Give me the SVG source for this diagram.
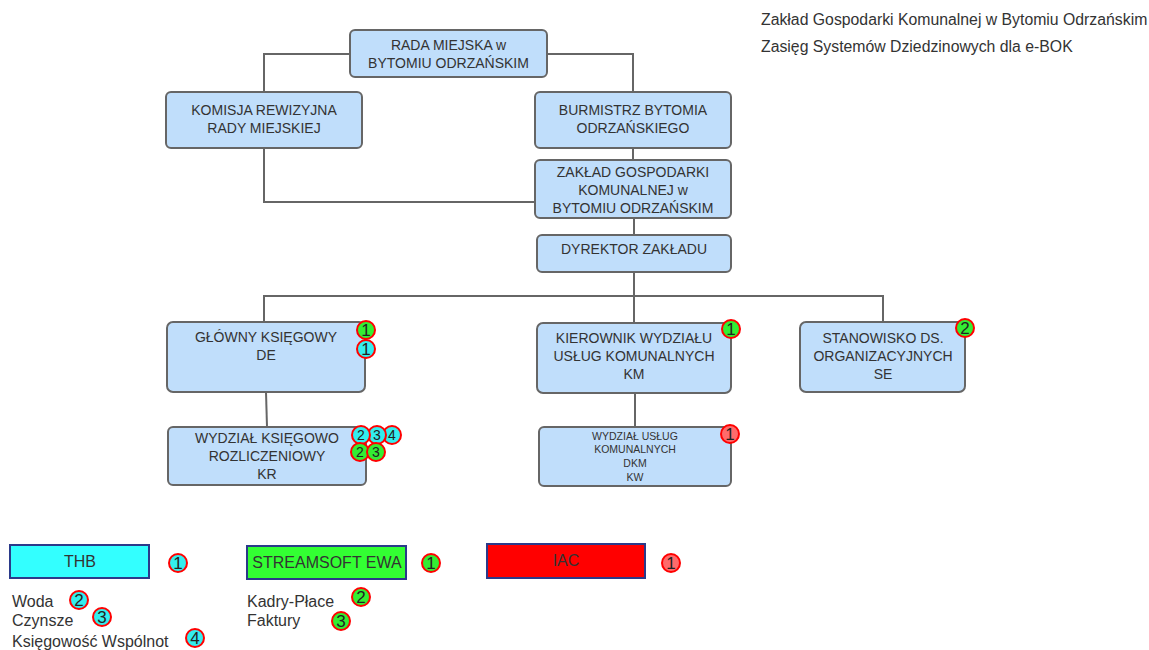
<svg xmlns="http://www.w3.org/2000/svg" width="1149" height="650" viewBox="0 0 1149 650">
<style>
.node{fill:#c0defb;stroke:#666;stroke-width:2}
.t{font-family:"Liberation Sans",Arial,sans-serif;font-size:14px;fill:#333;text-anchor:middle}
.ts{font-family:"Liberation Sans",Arial,sans-serif;font-size:10.5px;fill:#333;text-anchor:middle}
.lt{font-family:"Liberation Sans",Arial,sans-serif;font-size:16px;fill:#333}
.hd{font-family:"Liberation Sans",Arial,sans-serif;font-size:15.8px;fill:#333}
.con{fill:none;stroke:#666;stroke-width:2}
.bg circle{stroke:#f00;stroke-width:2}
.g{fill:#33ee33}.c{fill:#33eeee}.r{fill:#ff6b6b}
.bn{font-family:"Liberation Sans",Arial,sans-serif;font-size:17px;fill:#222;text-anchor:middle}
.bs{font-family:"Liberation Sans",Arial,sans-serif;font-size:14px;fill:#222;text-anchor:middle}
.leg{stroke:#2b3a8a;stroke-width:2}
</style>
<text class="hd" x="761" y="25">Zakład Gospodarki Komunalnej w Bytomiu Odrzańskim</text>
<text class="hd" x="761" y="52">Zasięg Systemów Dziedzinowych dla e-BOK</text>
<g id="connectors">
<polyline class="con" points="350,54 264,54 264,92"/>
<polyline class="con" points="547,54 633,54 633,92"/>
<line class="con" x1="633" y1="148" x2="633" y2="160"/>
<polyline class="con" points="264,148 264,202 535,202"/>
<line class="con" x1="634" y1="218" x2="634" y2="235"/>
<line class="con" x1="634" y1="272" x2="634" y2="323"/>
<polyline class="con" points="264,322 264,296 883,296 883,322"/>
<line class="con" x1="266" y1="392" x2="267" y2="427"/>
<line class="con" x1="635" y1="393" x2="635" y2="427"/>
</g>
<g id="rada"><rect class="node" x="350" y="30" width="197" height="47" rx="5"/>
<text class="t" x="448.5" y="50">RADA MIEJSKA w</text><text class="t" x="448.5" y="68">BYTOMIU ODRZAŃSKIM</text></g>
<g id="komisja"><rect class="node" x="166" y="92" width="196" height="56" rx="5"/>
<text class="t" x="264" y="115">KOMISJA REWIZYJNA</text><text class="t" x="264" y="133">RADY MIEJSKIEJ</text></g>
<g id="burmistrz"><rect class="node" x="535" y="92" width="196" height="56" rx="5"/>
<text class="t" x="633" y="115">BURMISTRZ BYTOMIA</text><text class="t" x="633" y="133">ODRZAŃSKIEGO</text></g>
<g id="zaklad"><rect class="node" x="535" y="160" width="196" height="58" rx="5"/>
<text class="t" x="633" y="177">ZAKŁAD GOSPODARKI</text><text class="t" x="633" y="195">KOMUNALNEJ w</text><text class="t" x="633" y="213">BYTOMIU ODRZAŃSKIM</text></g>
<g id="dyrektor"><rect class="node" x="537" y="235" width="194" height="37" rx="5"/>
<text class="t" x="634" y="254">DYREKTOR ZAKŁADU</text></g>
<g id="glowny"><rect class="node" x="167" y="322" width="198" height="70" rx="6"/>
<text class="t" x="266" y="342">GŁÓWNY KSIĘGOWY</text><text class="t" x="266" y="360">DE</text></g>
<g id="kierownik"><rect class="node" x="537" y="323" width="194" height="70" rx="6"/>
<text class="t" x="634" y="343">KIEROWNIK WYDZIAŁU</text><text class="t" x="634" y="361">USŁUG KOMUNALNYCH</text><text class="t" x="634" y="379">KM</text></g>
<g id="stanowisko"><rect class="node" x="800" y="322" width="165" height="70" rx="6"/>
<text class="t" x="883" y="343">STANOWISKO DS.</text><text class="t" x="883" y="361">ORGANIZACYJNYCH</text><text class="t" x="883" y="379">SE</text></g>
<g id="wks"><rect class="node" x="168" y="427" width="198" height="58" rx="5"/>
<text class="t" x="267" y="443">WYDZIAŁ KSIĘGOWO</text><text class="t" x="267" y="461">ROZLICZENIOWY</text><text class="t" x="267" y="479">KR</text></g>
<g id="wuk"><rect class="node" x="539" y="427" width="192" height="59" rx="5"/>
<text class="ts" x="635" y="440">WYDZIAŁ USŁUG</text><text class="ts" x="635" y="453">KOMUNALNYCH</text><text class="ts" x="635" y="467">DKM</text><text class="ts" x="635" y="481">KW</text></g>
<g id="badges" class="bg">
<circle class="g" cx="366" cy="330" r="9"/><text class="bn" x="366" y="336">1</text>
<circle class="c" cx="366" cy="349" r="9"/><text class="bn" x="366" y="355">1</text>
<circle class="g" cx="731" cy="329" r="9"/><text class="bn" x="731" y="335">1</text>
<circle class="g" cx="965" cy="328" r="9"/><text class="bn" x="965" y="334">2</text>
<circle class="r" cx="730" cy="434" r="9"/><text class="bn" x="730" y="440">1</text>
<circle class="c" cx="392" cy="435" r="9"/><text class="bs" x="392" y="440">4</text>
<circle class="c" cx="377" cy="435" r="9"/><text class="bs" x="377" y="440">3</text>
<circle class="c" cx="361" cy="435" r="9"/><text class="bs" x="361" y="440">2</text>
<circle class="g" cx="360" cy="452" r="9"/><text class="bs" x="360" y="457">2</text>
<circle class="g" cx="376" cy="452" r="9"/><text class="bs" x="376" y="457">3</text>
</g>
<g id="legend-thb"><rect class="leg" x="10" y="545" width="139" height="33" fill="#33ffff"/><text class="t" style="font-size:16px" x="80" y="567">THB</text></g>
<g id="legend-ewa"><rect class="leg" x="247" y="546" width="159" height="33" fill="#33ff33"/><text class="t" style="font-size:16px" x="327" y="568">STREAMSOFT EWA</text></g>
<g id="legend-iac"><rect class="leg" x="487" y="544" width="158" height="34" fill="#ff0000"/><text class="t" style="font-size:16px" x="566" y="566">IAC</text></g>
<g id="legend-badges" class="bg">
<circle class="c" cx="178" cy="563" r="9"/><text class="bn" x="178" y="569">1</text>
<circle class="g" cx="431" cy="563" r="9"/><text class="bn" x="431" y="569">1</text>
<circle class="r" cx="671" cy="563" r="9"/><text class="bn" x="671" y="569">1</text>
<circle class="c" cx="79" cy="600" r="9"/><text class="bn" x="79" y="606">2</text>
<circle class="c" cx="102" cy="617" r="9"/><text class="bn" x="102" y="623">3</text>
<circle class="c" cx="195" cy="638" r="9"/><text class="bn" x="195" y="644">4</text>
<circle class="g" cx="361" cy="597" r="9"/><text class="bn" x="361" y="603">2</text>
<circle class="g" cx="341" cy="621" r="9"/><text class="bn" x="341" y="627">3</text>
</g>
<text class="lt" x="12" y="607">Woda</text>
<text class="lt" x="12" y="626">Czynsze</text>
<text class="lt" x="12" y="647">Księgowość Wspólnot</text>
<text class="lt" x="247" y="607">Kadry-Płace</text>
<text class="lt" x="247" y="626">Faktury</text>
</svg>
